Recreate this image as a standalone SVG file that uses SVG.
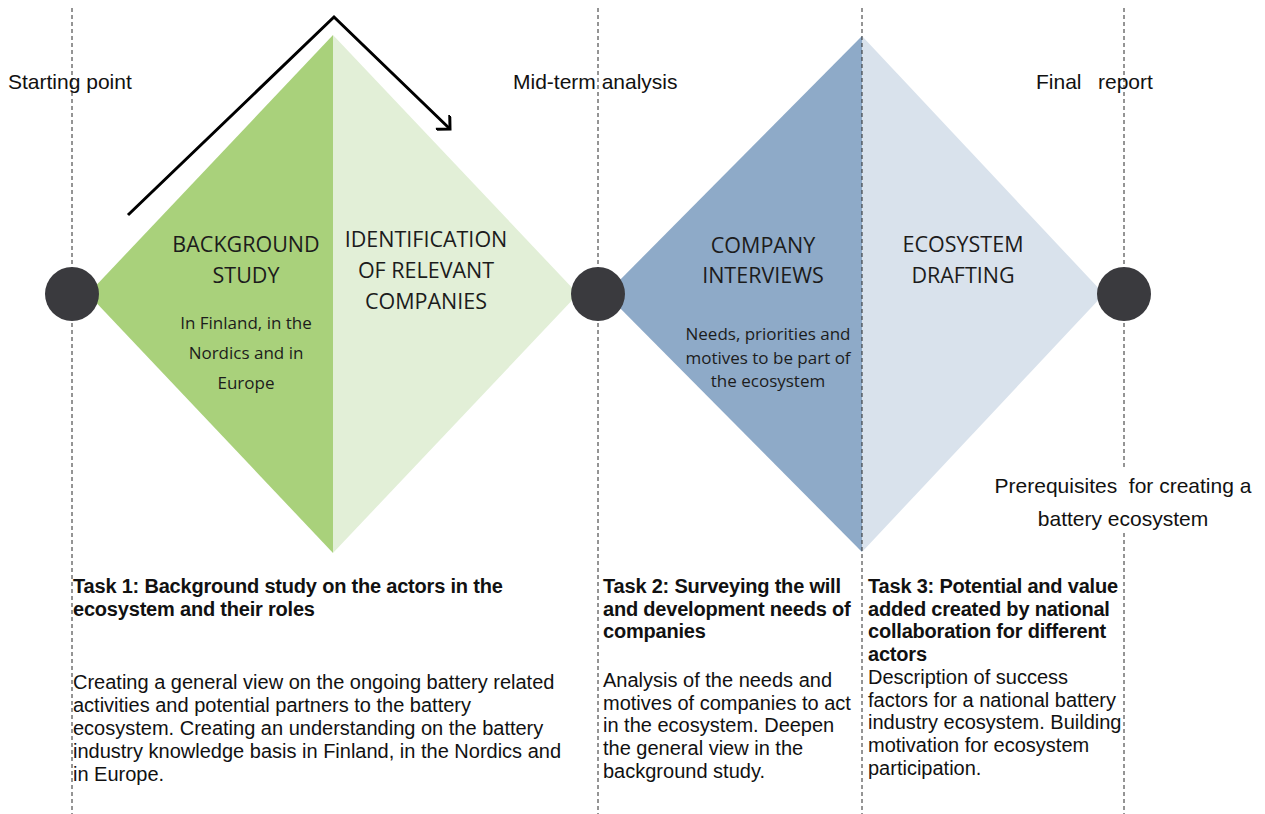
<svg xmlns="http://www.w3.org/2000/svg" width="1265" height="814" viewBox="0 0 1265 814">
  <defs>
    <style>
      .guide { stroke: #2b2b2b; stroke-width: 1; stroke-dasharray: 4 3; fill: none; }
      .milestone { fill: #3a3a3e; }
      .lbl { font-family: "Liberation Sans", Arial, sans-serif; font-size: 21px; fill: #111; }
      .phase { font-family: "Open Sans", "Noto Sans", sans-serif; font-size: 21.5px; fill: #1c1c1c; text-anchor: middle; }
      .small { font-family: "Open Sans", "Noto Sans", sans-serif; font-size: 17px; fill: #1c1c1c; text-anchor: middle; }
      .task { font-family: "Liberation Sans", Arial, sans-serif; font-size: 20px; font-weight: bold; letter-spacing: -0.2px; fill: #111; }
      .body { font-family: "Liberation Sans", Arial, sans-serif; font-size: 20px; fill: #111; }
      .arrow { stroke: #000; stroke-width: 3; fill: none; stroke-linejoin: miter; }
    </style>
    <marker id="open-head" viewBox="0 0 20 20" refX="14" refY="10" markerWidth="20" markerHeight="20" markerUnits="userSpaceOnUse" orient="auto">
      <path d="M4,0 L14,10 L4,20" fill="none" stroke="#000" stroke-width="3" stroke-linejoin="miter"/>
    </marker>
  </defs>

  <rect width="1265" height="814" fill="#ffffff"/>

  <!-- diamonds -->
  <g id="phase1">
    <polygon points="333,35 333,553 88,294" fill="#a9d17b"/>
    <polygon points="333,35 578,294 333,553" fill="#e2efd7"/>
  </g>
  <g id="phase2">
    <polygon points="862,36 862,552 606,294" fill="#8eaac8"/>
    <polygon points="862,36 1104,294 862,552" fill="#d9e2ec"/>
  </g>

  <!-- dashed guides -->
  <g id="guides">
    <line class="guide" x1="72" y1="8" x2="72" y2="814"/>
    <line class="guide" x1="598" y1="8" x2="598" y2="814"/>
    <line class="guide" x1="862" y1="8" x2="862" y2="814"/>
    <line class="guide" x1="1124" y1="8" x2="1124" y2="814"/>
  </g>

  <!-- connectors -->
  <g id="connectors">
    <polyline class="arrow" points="128,215 334,17 450,129" marker-end="url(#open-head)"/>
  </g>

  <!-- milestones -->
  <g id="milestone-start">
    <circle class="milestone" cx="72" cy="294" r="27"/>
    <text class="lbl" x="8" y="89">Starting point</text>
  </g>
  <g id="milestone-mid">
    <circle class="milestone" cx="598" cy="294" r="27"/>
    <text class="lbl" x="513" y="89">Mid-term analysis</text>
  </g>
  <g id="milestone-final">
    <circle class="milestone" cx="1124" cy="294" r="27"/>
    <text class="lbl" y="89"><tspan x="1036">Final</tspan> <tspan x="1098">report</tspan></text>
  </g>

  <!-- phase labels -->
  <g id="background-study">
    <text class="phase" x="246" y="252">BACKGROUND</text>
    <text class="phase" x="246" y="283">STUDY</text>
    <text class="small" x="246" y="329">In Finland, in the</text>
    <text class="small" x="246" y="359">Nordics and in</text>
    <text class="small" x="246" y="389">Europe</text>
  </g>
  <g id="identification">
    <text class="phase" x="426" y="247">IDENTIFICATION</text>
    <text class="phase" x="426" y="278">OF RELEVANT</text>
    <text class="phase" x="426" y="309">COMPANIES</text>
  </g>
  <g id="company-interviews">
    <text class="phase" x="763" y="253">COMPANY</text>
    <text class="phase" x="763" y="283">INTERVIEWS</text>
    <text class="small" x="768" y="340">Needs, priorities and</text>
    <text class="small" x="768" y="364">motives to be part of</text>
    <text class="small" x="768" y="387">the ecosystem</text>
  </g>
  <g id="ecosystem-drafting">
    <text class="phase" x="963" y="252">ECOSYSTEM</text>
    <text class="phase" x="963" y="283">DRAFTING</text>
  </g>

  <g id="prerequisites">
    <rect x="990" y="468" width="266" height="64" fill="#ffffff"/>
    <text class="lbl" x="1123" y="493" text-anchor="middle" xml:space="preserve">Prerequisites  for creating a</text>
    <text class="lbl" x="1123" y="526" text-anchor="middle">battery ecosystem</text>
  </g>

  <!-- tasks -->
  <g id="task1">
    <text class="task" x="73" y="593">Task 1: Background study on the actors in the</text>
    <text class="task" x="73" y="616">ecosystem and their roles</text>
    <text class="body" x="73" y="689">Creating a general view on the ongoing battery related</text>
    <text class="body" x="73" y="712">activities and potential partners to the battery</text>
    <text class="body" x="73" y="735">ecosystem. Creating an understanding on the battery</text>
    <text class="body" x="73" y="758">industry knowledge basis in Finland, in the Nordics and</text>
    <text class="body" x="73" y="781">in Europe.</text>
  </g>
  <g id="task2">
    <text class="task" x="603" y="593">Task 2: Surveying the will</text>
    <text class="task" x="603" y="616">and development needs of</text>
    <text class="task" x="603" y="638">companies</text>
    <text class="body" x="603" y="687">Analysis of the needs and</text>
    <text class="body" x="603" y="710">motives of companies to act</text>
    <text class="body" x="603" y="732">in the ecosystem. Deepen</text>
    <text class="body" x="603" y="755">the general view in the</text>
    <text class="body" x="603" y="778">background study.</text>
  </g>
  <g id="task3">
    <text class="task" x="868" y="593">Task 3: Potential and value</text>
    <text class="task" x="868" y="616">added created by national</text>
    <text class="task" x="868" y="638">collaboration for different</text>
    <text class="task" x="868" y="661">actors</text>
    <text class="body" x="868" y="684">Description of success</text>
    <text class="body" x="868" y="707">factors for a national battery</text>
    <text class="body" x="868" y="729">industry ecosystem. Building</text>
    <text class="body" x="868" y="752">motivation for ecosystem</text>
    <text class="body" x="868" y="775">participation.</text>
  </g>
</svg>
